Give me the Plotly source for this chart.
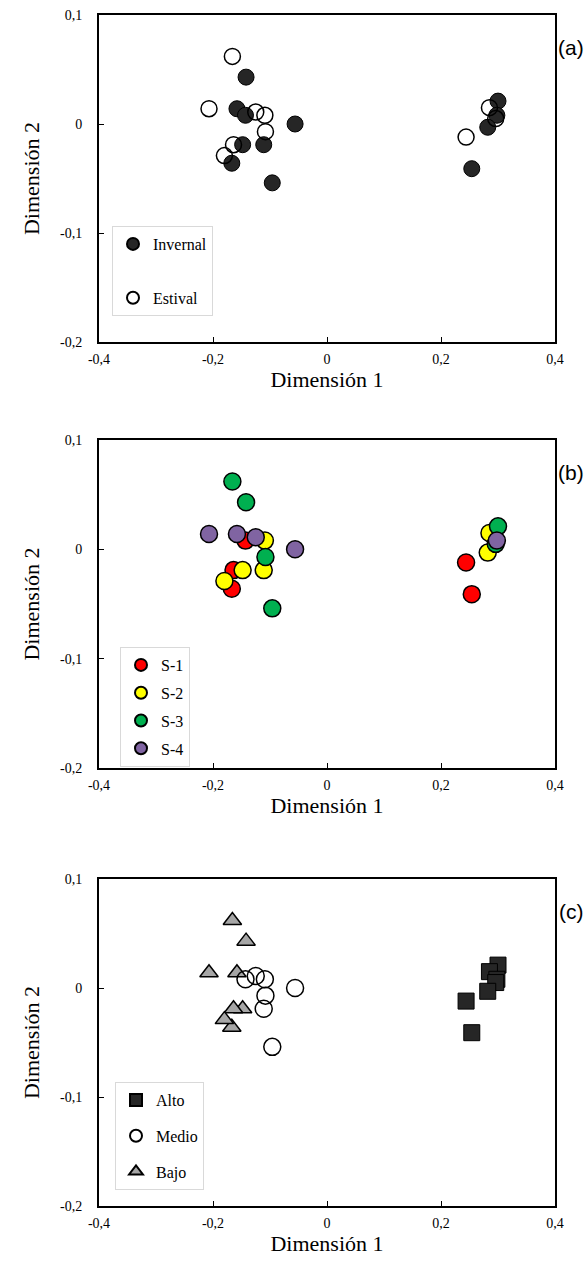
import plotly.graph_objects as go

# ---- data ----
dim1 = [-0.142, -0.158, -0.143, -0.056, -0.148, -0.111, -0.167, -0.096,
        -0.166, -0.207, -0.125, -0.109, -0.108, -0.164, -0.180,
        0.300, 0.285, 0.298, 0.296, 0.282, 0.244, 0.254]
dim2 = [0.043, 0.014, 0.008, 0.000, -0.019, -0.019, -0.036, -0.054,
        0.062, 0.014, 0.011, 0.008, -0.007, -0.019, -0.029,
        0.021, 0.015, 0.008, 0.005, -0.003, -0.012, -0.041]
season = ["Invernal"] * 8 + ["Estival"] * 7 + ["Invernal", "Estival", "Invernal", "Estival",
                                                "Invernal", "Estival", "Invernal"]
site = ["S-3", "S-4", "S-1", "S-4", "S-2", "S-2", "S-1", "S-3",
        "S-3", "S-4", "S-4", "S-2", "S-3", "S-1", "S-2",
        "S-3", "S-2", "S-4", "S-3", "S-2", "S-1", "S-1"]
level = ["Bajo", "Bajo", "Medio", "Medio", "Bajo", "Medio", "Bajo", "Medio",
         "Bajo", "Bajo", "Medio", "Medio", "Medio", "Bajo", "Bajo",
         "Alto", "Alto", "Alto", "Alto", "Alto", "Alto", "Alto"]

x_ticks = [-0.4, -0.2, 0, 0.2, 0.4]
x_ticktext = ["-0,4", "-0,2", "0", "0,2", "0,4"]
y_ticks = [0.1, 0, -0.1, -0.2]
y_ticktext = ["0,1", "0", "-0,1", "-0,2"]

seasons = ["Invernal", "Estival"]
season_style = {"Invernal": dict(color="#262626", line=dict(color="#000000", width=1)),
                "Estival": dict(color="rgba(255,255,255,0)", line=dict(color="#000000", width=1.5))}
sites = ["S-1", "S-2", "S-3", "S-4"]
site_color = {"S-1": "#FF0000", "S-2": "#FFFF00", "S-3": "#00B050", "S-4": "#8064A2"}
levels_draw = ["Bajo", "Medio", "Alto"]
level_rank = {"Alto": 1, "Medio": 2, "Bajo": 3}
level_style = {"Alto": dict(symbol="square", color="#262626", line=dict(color="#000000", width=1), size=16),
               "Medio": dict(symbol="circle", color="rgba(255,255,255,0)", line=dict(color="#000000", width=1.5), size=17),
               "Bajo": dict(symbol="triangle-up", color="#A6A6A6", line=dict(color="#000000", width=1.5), size=16)}

SERIF = "Liberation Serif"
W, H = 587, 1280

fig = go.Figure()


def subset(key_list, value):
    xs = [dim1[i] for i in range(len(dim1)) if key_list[i] == value]
    ys = [dim2[i] for i in range(len(dim2)) if key_list[i] == value]
    return xs, ys

# panel (a)
for s in seasons:
    xs, ys = subset(season, s)
    fig.add_trace(go.Scatter(x=xs, y=ys, mode="markers", name=s, xaxis="x", yaxis="y",
                             legend="legend", legendgroup="a" + s,
                             marker=dict(size=16, symbol="circle", **season_style[s])))
# panel (b)
for s in sites:
    xs, ys = subset(site, s)
    fig.add_trace(go.Scatter(x=xs, y=ys, mode="markers", name=s, xaxis="x2", yaxis="y2",
                             legend="legend2", legendgroup="b" + s,
                             marker=dict(size=17, symbol="circle", color=site_color[s],
                                         line=dict(color="#000000", width=1.5))))
# panel (c)
for lv in levels_draw:
    xs, ys = subset(level, lv)
    fig.add_trace(go.Scatter(x=xs, y=ys, mode="markers", name=lv, xaxis="x3", yaxis="y3",
                             legend="legend3", legendgroup="c" + lv, legendrank=level_rank[lv],
                             marker=dict(**level_style[lv])))

x_dom = [99 / W, 555 / W]
panels = [(15, 342), (440, 768), (879, 1206)]
axis_common = dict(showline=True, linecolor="#000000", linewidth=2, mirror=True,
                   showgrid=False, zeroline=False, ticks="inside", ticklen=5,
                   tickcolor="#000000", tickwidth=1, automargin=False,
                   tickfont=dict(family=SERIF, size=14, color="#000000"))
layout = dict(width=W, height=H, margin=dict(l=0, r=0, t=0, b=0, pad=0),
              paper_bgcolor="white", plot_bgcolor="white", showlegend=True)
for k, (top, bot) in enumerate(panels):
    suf = "" if k == 0 else str(k + 1)
    layout["xaxis" + suf] = dict(domain=x_dom, range=[-0.4, 0.4], anchor="y" + suf,
                                 tickvals=x_ticks, ticktext=x_ticktext, ticklabelstandoff=3,
                                 title=dict(text="Dimensión 1", font=dict(family=SERIF, size=22, color="#000000"),
                                            standoff=6),
                                 **axis_common)
    layout["yaxis" + suf] = dict(domain=[1 - bot / H, 1 - top / H], range=[-0.2, 0.1], anchor="x" + suf,
                                 tickvals=y_ticks, ticktext=y_ticktext, ticklabelstandoff=12,
                                 title=dict(text="Dimensión 2", font=dict(family=SERIF, size=22, color="#000000"),
                                            standoff=14),
                                 **axis_common)

legend_common = dict(bgcolor="white", bordercolor="#D9D9D9", borderwidth=1,
                     font=dict(family=SERIF, size=16, color="#000000"),
                     xanchor="left", yanchor="top", itemsizing="constant", traceorder="grouped")
layout["legend"] = dict(x=112 / W, y=1 - 226 / H, tracegroupgap=30, **legend_common)
layout["legend2"] = dict(x=120 / W, y=1 - 647 / H, tracegroupgap=4, **legend_common)
layout["legend3"] = dict(x=115 / W, y=1 - 1082 / H, tracegroupgap=12, **legend_common)

fig.update_layout(**layout)

for lab, yc in [("(a)", 47), ("(b)", 472), ("(c)", 911)]:
    fig.add_annotation(text=lab, xref="paper", yref="paper", x=586 / W, y=1 - yc / H,
                       xanchor="right", yanchor="middle", showarrow=False,
                       font=dict(family="Liberation Sans", size=21, color="#000000"))

fig.write_html("out.html", config={"displayModeBar": False},
               post_script="document.body.style.margin='0';document.body.style.padding='0';"
                           "document.body.style.overflow='hidden';"
                           "document.documentElement.style.overflow='hidden';")
